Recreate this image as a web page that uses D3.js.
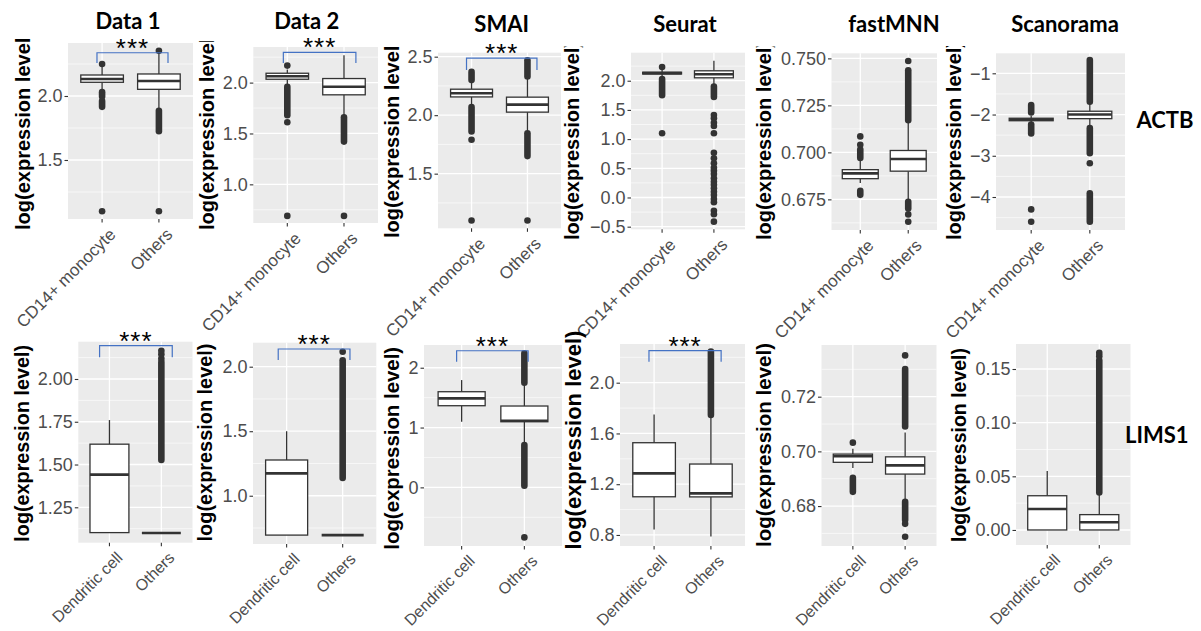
<!DOCTYPE html>
<html>
<head>
<meta charset="utf-8">
<script src="https://cdn.jsdelivr.net/npm/d3@7"></script>
<style>
  body { margin: 0; background: #ffffff; }
  svg { display: block; }
</style>
</head>
<body>
<svg id="chart" width="1201" height="631"></svg>
<script>
// ---------------- data ----------------
const methods = ["Data 1", "Data 2", "SMAI", "Seurat", "fastMNN", "Scanorama"];
const genes = ["ACTB", "LIMS1"];
const actbGroups = ["CD14+ monocyte", "Others"];
const limsGroups = ["Dendritic cell", "Others"];
const yTitle = "log(expression level)";
const signifLabel = "***";

// Box statistics per method: [lower whisker, Q1, median, Q3, upper whisker], one per group
const actbStats = [
  [[2.05, 2.107, 2.133, 2.164, 2.235], [1.89, 2.052, 2.117, 2.172, 2.34]],
  [[1.98, 2.033, 2.063, 2.092, 2.13], [1.67, 1.88, 1.96, 2.04, 2.27]],
  [[2.09, 2.156, 2.188, 2.222, 2.30], [1.86, 2.026, 2.09, 2.154, 2.33]],
  [[2.06, 2.115, 2.13, 2.145, 2.20], [1.93, 2.05, 2.11, 2.17, 2.34]],
  [[0.6837, 0.686, 0.6888, 0.6908, 0.696], [0.6746, 0.690, 0.6965, 0.701, 0.7165]],
  [[-2.20, -2.15, -2.12, -2.09, -2.03], [-2.30, -2.10, -2.00, -1.92, -1.71]]
];
// Single outlying cells
const actbOutliers = [
  [[2.25, 1.10], [2.354, 1.10]],
  [[2.167, 1.61, 0.69], [0.69]],
  [[1.79, 1.10], [1.10]],
  [[2.235, 1.10], [1.413, 1.356, 1.281, 1.224, 1.099, 0.767, 0.671, 0.586, 0.51, 0.459, 0.402,
                   0.329, 0.27, 0.216, 0.157, 0.099, 0.043, -0.026, -0.082, -0.226, -0.288, -0.414]],
  [[0.7085, 0.704], [0.7486, 0.667, 0.6631]],
  [[-4.30, -4.60], [-3.18]]
];
// Ranges where outlying cells are packed so densely that they form a solid column: [from, to]
const actbOutlierRuns = [
  [[[1.997, 2.03], [1.915, 1.96]], [[1.725, 1.885]]],
  [[[1.68, 1.96]], [[1.42, 1.66]]],
  [[[2.30, 2.37], [1.86, 2.07]], [[2.33, 2.47], [1.65, 1.846]]],
  [[[1.75, 2.03]], [[1.72, 1.90]]],
  [[[0.697, 0.7015], [0.6774, 0.6796]], [[0.7171, 0.7437], [0.6702, 0.6737]]],
  [[[-1.95, -1.77], [-2.46, -2.24]], [[-1.69, -0.68], [-2.94, -2.33], [-4.60, -3.91]]]
];

const limsStats = [
  [[1.102, 1.102, 1.441, 1.619, 1.76], [1.10, 1.10, 1.10, 1.10, 1.10]],
  [[0.695, 0.695, 1.173, 1.277, 1.50], [0.695, 0.695, 0.695, 0.695, 0.695]],
  [[1.097, 1.365, 1.488, 1.599, 1.794], [0.736, 1.097, 1.114, 1.36, 1.74]],
  [[0.844, 1.101, 1.285, 1.527, 1.75], [0.787, 1.10, 1.128, 1.359, 1.737]],
  [[0.6939, 0.696, 0.6982, 0.699, 0.701], [0.6822, 0.6917, 0.6949, 0.698, 0.7069]],
  [[0, 0, 0.0196, 0.0319, 0.055], [0, 0, 0.0072, 0.0143, 0.0347]]
];
const limsOutliers = [
  [[], [2.12, 2.145, 2.165]],
  [[], [2.116]],
  [[], [-0.836]],
  [[], []],
  [[0.7032], [0.7351, 0.6735, 0.6688]],
  [[], [0.162, 0.165]]
];
const limsOutlierRuns = [
  [[], [[1.527, 2.10]]],
  [[], [[1.137, 2.05]]],
  [[], [[1.75, 2.24], [0.027, 0.707]]],
  [[], [[1.745, 2.245]]],
  [[[0.6852, 0.6903]], [[0.7091, 0.7301], [0.6749, 0.6816]]],
  [[], [[0.035, 0.158]]]
];

// Axis limits and tick values
const actbDomains = [[1.039, 2.414], [0.62, 2.35], [1.033, 2.534], [-0.545, 2.48], [0.6587, 0.7527], [-4.80, -0.515]];
const actbTicks = [[1.5, 2.0], [1.0, 1.5, 2.0], [1.5, 2.0, 2.5], [-0.5, 0, 0.5, 1.0, 1.5, 2.0], [0.675, 0.700, 0.725, 0.750], [-4, -3, -2, -1]];
const actbTickFormats = [".1f", ".1f", ".1f", ".1f", ".3f", "d"];
const limsDomains = [[1.043, 2.218], [0.626, 2.186], [-0.98, 2.38], [0.713, 2.305], [0.6654, 0.7389], [-0.014, 0.1733]];
const limsTicks = [[1.25, 1.50, 1.75, 2.00], [1.0, 1.5, 2.0], [0, 1, 2], [0.8, 1.2, 1.6, 2.0], [0.68, 0.70, 0.72], [0, 0.05, 0.10, 0.15]];
const limsTickFormats = [".2f", ".1f", "d", ".1f", ".2f", ".2f"];

// Significance brackets: [method index, from (group units), to (group units), height, tip end]
const actbBrackets = [[0, 0.91, 2.16, 2.338, 2.258], [1, 0.93, 2.21, 2.298, 2.193], [2, 0.91, 2.17, 2.487, 2.387]];
const limsBrackets = [[0, 0.81, 2.21, 2.195, 2.127], [1, 0.85, 2.13, 2.137, 2.052], [2, 0.92, 2.06, 2.284, 2.10], [3, 0.91, 2.18, 2.252, 2.166]];

// ---------------- layout ----------------
// panel boxes [left, right, top, bottom]
const actbPanels = [[68, 193, 43, 219], [253.3, 378, 47, 223], [438, 561, 52.7, 228.3], [631, 745, 52.7, 229.3], [831.5, 937, 53.3, 230], [996, 1125, 53.3, 230]];
const limsPanels = [[78.3, 192.5, 341.7, 542.7], [253, 376.3, 342.7, 544], [424, 562, 345, 546], [620, 745, 344, 546], [821.5, 936.5, 345, 546], [1016, 1130.5, 344, 545]];
// y-axis title: [baseline x, centre y, font size, clip top]
const actbYTitle = [[30, 130.5, 20, 39], [214, 130.5, 20, 41], [399, 138.5, 20, 46.5], [579, 140.5, 20, 46.5], [771, 140.5, 20, 46.5], [961, 140.5, 20, 46]];
const limsYTitle = [[29, 443.3, 19.8, 0], [212, 442.5, 19.9, 0], [399, 448.3, 20.4, 0], [581, 440, 22, 0], [771, 445, 20.5, 0], [965.7, 445, 19.5, 0]];
const titlePos = [[128, 29], [306.7, 29], [501.7, 31.7], [685, 31.7], [894, 31.7], [1065, 31.7]];
const rowLabelPos = [[1136.5, 128], [1125, 442.7]];
const groupLabelSize = { actb: 17, lims: 16 };

const INK = "#333333";
const TICK_TEXT = "#4D4D4D";
const BG = "#EBEBEB";
const BRACKET = "#4472C4";
const R = 3.3;
const SANS = "'Liberation Sans', Arial, sans-serif";

const svg = d3.select("#chart");
const defs = svg.append("defs");

function drawPanel(idx, rowKey, box, domain, ticks, fmt, groups, stats, outs, runs, yt, brackets) {
  const [left, right, top, bottom] = box;
  const g = svg.append("g").attr("class", `panel ${rowKey}-${idx}`);
  const y = d3.scaleLinear().domain(domain).range([bottom, top]);
  const x = d3.scalePoint().domain(groups).range([left, right]).padding(0.6);
  const step = x.step();
  const gx = u => x(groups[0]) + (u - 1) * step;

  g.append("rect").attr("x", left).attr("y", top)
    .attr("width", right - left).attr("height", bottom - top).attr("fill", BG);

  // grid
  const st = ticks[1] - ticks[0];
  const minors = [];
  for (let k = -2; k < ticks.length + 1; k++) {
    const v = ticks[0] + (k + 0.5) * st;
    if (v > domain[0] && v < domain[1]) minors.push(v);
  }
  g.selectAll(".minor").data(minors).join("line")
    .attr("x1", left).attr("x2", right).attr("y1", d => y(d)).attr("y2", d => y(d))
    .attr("stroke", "#ffffff").attr("stroke-width", 0.6);
  g.selectAll(".major").data(ticks).join("line")
    .attr("x1", left).attr("x2", right).attr("y1", d => y(d)).attr("y2", d => y(d))
    .attr("stroke", "#ffffff").attr("stroke-width", 1.3);
  g.selectAll(".vmajor").data(groups).join("line")
    .attr("x1", d => x(d)).attr("x2", d => x(d)).attr("y1", top).attr("y2", bottom)
    .attr("stroke", "#ffffff").attr("stroke-width", 1.3);

  // boxes
  groups.forEach((grp, i) => {
    const cx = x(grp);
    const [lo, q1, med, q3, hi] = stats[i];
    const bw = step * 0.75;
    const bg = g.append("g");
    bg.selectAll("line.run").data(runs[i]).join("line")
      .attr("x1", cx).attr("x2", cx).attr("y1", d => y(d[0])).attr("y2", d => y(d[1]))
      .attr("stroke", INK).attr("stroke-width", R * 2).attr("stroke-linecap", "round");
    bg.selectAll("circle").data(outs[i]).join("circle")
      .attr("cx", cx).attr("cy", d => y(d)).attr("r", R).attr("fill", INK);
    bg.append("line").attr("x1", cx).attr("x2", cx).attr("y1", y(q3)).attr("y2", y(hi))
      .attr("stroke", INK).attr("stroke-width", 1.3);
    bg.append("line").attr("x1", cx).attr("x2", cx).attr("y1", y(q1)).attr("y2", y(lo))
      .attr("stroke", INK).attr("stroke-width", 1.3);
    bg.append("rect").attr("x", cx - bw / 2).attr("y", y(q3))
      .attr("width", bw).attr("height", Math.max(0, y(q1) - y(q3)))
      .attr("fill", "#ffffff").attr("stroke", INK).attr("stroke-width", 1.3);
    bg.append("line").attr("x1", cx - bw / 2).attr("x2", cx + bw / 2)
      .attr("y1", y(med)).attr("y2", y(med))
      .attr("stroke", INK).attr("stroke-width", 2.6);
  });

  // y axis
  const ya = g.append("g").attr("transform", `translate(${left},0)`)
    .call(d3.axisLeft(y).tickValues(ticks).tickFormat(d3.format(fmt)).tickSize(3.5).tickPadding(2));
  ya.select(".domain").remove();
  ya.selectAll("line").attr("stroke", INK).attr("stroke-width", 1.1);
  ya.selectAll("text").attr("fill", TICK_TEXT)
    .style("font-family", SANS).style("font-size", "18px");

  // x axis
  g.selectAll(".xt").data(groups).join("line")
    .attr("x1", d => x(d)).attr("x2", d => x(d)).attr("y1", bottom).attr("y2", bottom + 3.5)
    .attr("stroke", INK).attr("stroke-width", 1.1);
  g.selectAll(".xl").data(groups).join("text")
    .attr("transform", d => `translate(${x(d) + 6},${bottom + 8}) rotate(-45)`)
    .attr("text-anchor", "end").attr("dy", "0.71em")
    .attr("fill", TICK_TEXT)
    .style("font-family", SANS).style("font-size", groupLabelSize[rowKey] + "px")
    .text(d => d);

  // y title
  const [tx, ty, ts, clipTop] = yt;
  const holder = g.append("g");
  holder.append("text")
    .attr("transform", `translate(${tx},${ty}) rotate(-90)`)
    .attr("text-anchor", "middle")
    .attr("fill", "#000000")
    .style("font-family", SANS)
    .style("font-weight", "bold").style("font-size", ts + "px")
    .text(yTitle);
  if (clipTop > 0) {
    const id = `clip-${rowKey}-${idx}`;
    defs.append("clipPath").attr("id", id).append("rect")
      .attr("x", tx - 40).attr("y", clipTop).attr("width", 80).attr("height", 400);
    holder.attr("clip-path", `url(#${id})`);
  }

  // significance bracket
  brackets.filter(b => b[0] === idx).forEach(b => {
    const [, u1, u2, yb, ytip] = b;
    const x1 = gx(u1), x2 = gx(u2);
    g.append("path")
      .attr("d", `M${x1},${y(ytip)}V${y(yb)}H${x2}V${y(ytip)}`)
      .attr("fill", "none").attr("stroke", BRACKET).attr("stroke-width", 1.2);
    g.append("text").attr("x", (x1 + x2) / 2).attr("y", y(yb) + 4)
      .attr("text-anchor", "middle").attr("fill", "#000000")
      .style("font-family", SANS).style("font-size", "26px")
      .style("letter-spacing", "1px")
      .text(signifLabel);
  });
}

methods.forEach((m, i) => {
  drawPanel(i, "actb", actbPanels[i], actbDomains[i], actbTicks[i], actbTickFormats[i],
    actbGroups, actbStats[i], actbOutliers[i], actbOutlierRuns[i], actbYTitle[i], actbBrackets);
  drawPanel(i, "lims", limsPanels[i], limsDomains[i], limsTicks[i], limsTickFormats[i],
    limsGroups, limsStats[i], limsOutliers[i], limsOutlierRuns[i], limsYTitle[i], limsBrackets);
});

// method titles
svg.selectAll(".method").data(methods).join("text")
  .attr("x", (d, i) => titlePos[i][0]).attr("y", (d, i) => titlePos[i][1])
  .attr("text-anchor", "middle").attr("fill", "#000000")
  .style("font-family", "Lato, 'Open Sans', sans-serif").style("font-weight", "bold").style("font-size", "22px")
  .text(d => d);

// gene labels
svg.selectAll(".gene").data(genes).join("text")
  .attr("x", (d, i) => rowLabelPos[i][0]).attr("y", (d, i) => rowLabelPos[i][1])
  .attr("fill", "#000000")
  .style("font-family", "Lato, 'Open Sans', sans-serif").style("font-weight", "bold").style("font-size", "22px")
  .text(d => d);
</script>
</body>
</html>
